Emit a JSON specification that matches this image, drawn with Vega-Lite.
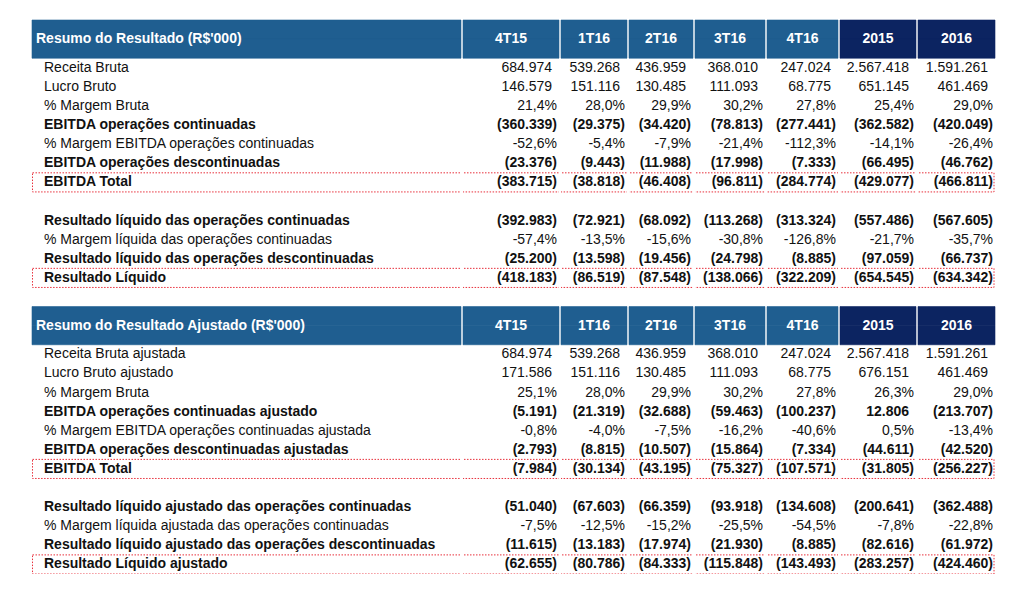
{
 "$schema": "https://vega.github.io/schema/vega-lite/v6.json",
 "padding": {"left": 31, "top": 19, "right": 0, "bottom": 0},
 "background": "#ffffff",
 "spacing": 2,
 "bounds": "flush",
 "config": {"view": {"stroke": null}, "text": {"font": "Liberation Sans", "fontSize": 14, "color": "#111111"}},
 "datasets": {
  "faixas": [{"linha": "HA1"}, {"linha": "HA2"}, {"linha": "HB1"}, {"linha": "HB2"}],
  "celulas": [
   {"linha":"HA1","tipo":"cabecalho","coluna":"Item","valor":"Resumo do Resultado (R$'000)"},
   {"linha":"HA1","tipo":"cabecalho","coluna":"4T15","valor":"4T15"},
   {"linha":"HA1","tipo":"cabecalho","coluna":"1T16","valor":"1T16"},
   {"linha":"HA1","tipo":"cabecalho","coluna":"2T16","valor":"2T16"},
   {"linha":"HA1","tipo":"cabecalho","coluna":"3T16","valor":"3T16"},
   {"linha":"HA1","tipo":"cabecalho","coluna":"4T16","valor":"4T16"},
   {"linha":"HA1","tipo":"cabecalho","coluna":"2015","valor":"2015"},
   {"linha":"HA1","tipo":"cabecalho","coluna":"2016","valor":"2016"},
   {"linha":"A1","tipo":"detalhe","coluna":"Item","valor":"Receita Bruta"},
   {"linha":"A1","tipo":"detalhe","coluna":"4T15","valor":"684.974"},
   {"linha":"A1","tipo":"detalhe","coluna":"1T16","valor":"539.268"},
   {"linha":"A1","tipo":"detalhe","coluna":"2T16","valor":"436.959"},
   {"linha":"A1","tipo":"detalhe","coluna":"3T16","valor":"368.010"},
   {"linha":"A1","tipo":"detalhe","coluna":"4T16","valor":"247.024"},
   {"linha":"A1","tipo":"detalhe","coluna":"2015","valor":"2.567.418"},
   {"linha":"A1","tipo":"detalhe","coluna":"2016","valor":"1.591.261"},
   {"linha":"A2","tipo":"detalhe","coluna":"Item","valor":"Lucro Bruto"},
   {"linha":"A2","tipo":"detalhe","coluna":"4T15","valor":"146.579"},
   {"linha":"A2","tipo":"detalhe","coluna":"1T16","valor":"151.116"},
   {"linha":"A2","tipo":"detalhe","coluna":"2T16","valor":"130.485"},
   {"linha":"A2","tipo":"detalhe","coluna":"3T16","valor":"111.093"},
   {"linha":"A2","tipo":"detalhe","coluna":"4T16","valor":"68.775"},
   {"linha":"A2","tipo":"detalhe","coluna":"2015","valor":"651.145"},
   {"linha":"A2","tipo":"detalhe","coluna":"2016","valor":"461.469"},
   {"linha":"A3","tipo":"detalhe","coluna":"Item","valor":"% Margem Bruta"},
   {"linha":"A3","tipo":"detalhe","coluna":"4T15","valor":"21,4%"},
   {"linha":"A3","tipo":"detalhe","coluna":"1T16","valor":"28,0%"},
   {"linha":"A3","tipo":"detalhe","coluna":"2T16","valor":"29,9%"},
   {"linha":"A3","tipo":"detalhe","coluna":"3T16","valor":"30,2%"},
   {"linha":"A3","tipo":"detalhe","coluna":"4T16","valor":"27,8%"},
   {"linha":"A3","tipo":"detalhe","coluna":"2015","valor":"25,4%"},
   {"linha":"A3","tipo":"detalhe","coluna":"2016","valor":"29,0%"},
   {"linha":"A4","tipo":"principal","coluna":"Item","valor":"EBITDA operações continuadas"},
   {"linha":"A4","tipo":"principal","coluna":"4T15","valor":"(360.339)"},
   {"linha":"A4","tipo":"principal","coluna":"1T16","valor":"(29.375)"},
   {"linha":"A4","tipo":"principal","coluna":"2T16","valor":"(34.420)"},
   {"linha":"A4","tipo":"principal","coluna":"3T16","valor":"(78.813)"},
   {"linha":"A4","tipo":"principal","coluna":"4T16","valor":"(277.441)"},
   {"linha":"A4","tipo":"principal","coluna":"2015","valor":"(362.582)"},
   {"linha":"A4","tipo":"principal","coluna":"2016","valor":"(420.049)"},
   {"linha":"A5","tipo":"detalhe","coluna":"Item","valor":"% Margem EBITDA operações continuadas"},
   {"linha":"A5","tipo":"detalhe","coluna":"4T15","valor":"-52,6%"},
   {"linha":"A5","tipo":"detalhe","coluna":"1T16","valor":"-5,4%"},
   {"linha":"A5","tipo":"detalhe","coluna":"2T16","valor":"-7,9%"},
   {"linha":"A5","tipo":"detalhe","coluna":"3T16","valor":"-21,4%"},
   {"linha":"A5","tipo":"detalhe","coluna":"4T16","valor":"-112,3%"},
   {"linha":"A5","tipo":"detalhe","coluna":"2015","valor":"-14,1%"},
   {"linha":"A5","tipo":"detalhe","coluna":"2016","valor":"-26,4%"},
   {"linha":"A6","tipo":"principal","coluna":"Item","valor":"EBITDA operações descontinuadas"},
   {"linha":"A6","tipo":"principal","coluna":"4T15","valor":"(23.376)"},
   {"linha":"A6","tipo":"principal","coluna":"1T16","valor":"(9.443)"},
   {"linha":"A6","tipo":"principal","coluna":"2T16","valor":"(11.988)"},
   {"linha":"A6","tipo":"principal","coluna":"3T16","valor":"(17.998)"},
   {"linha":"A6","tipo":"principal","coluna":"4T16","valor":"(7.333)"},
   {"linha":"A6","tipo":"principal","coluna":"2015","valor":"(66.495)"},
   {"linha":"A6","tipo":"principal","coluna":"2016","valor":"(46.762)"},
   {"linha":"A7","tipo":"total","coluna":"Item","valor":"EBITDA Total"},
   {"linha":"A7","tipo":"total","coluna":"4T15","valor":"(383.715)"},
   {"linha":"A7","tipo":"total","coluna":"1T16","valor":"(38.818)"},
   {"linha":"A7","tipo":"total","coluna":"2T16","valor":"(46.408)"},
   {"linha":"A7","tipo":"total","coluna":"3T16","valor":"(96.811)"},
   {"linha":"A7","tipo":"total","coluna":"4T16","valor":"(284.774)"},
   {"linha":"A7","tipo":"total","coluna":"2015","valor":"(429.077)"},
   {"linha":"A7","tipo":"total","coluna":"2016","valor":"(466.811)"},
   {"linha":"A9","tipo":"principal","coluna":"Item","valor":"Resultado líquido das operações continuadas"},
   {"linha":"A9","tipo":"principal","coluna":"4T15","valor":"(392.983)"},
   {"linha":"A9","tipo":"principal","coluna":"1T16","valor":"(72.921)"},
   {"linha":"A9","tipo":"principal","coluna":"2T16","valor":"(68.092)"},
   {"linha":"A9","tipo":"principal","coluna":"3T16","valor":"(113.268)"},
   {"linha":"A9","tipo":"principal","coluna":"4T16","valor":"(313.324)"},
   {"linha":"A9","tipo":"principal","coluna":"2015","valor":"(557.486)"},
   {"linha":"A9","tipo":"principal","coluna":"2016","valor":"(567.605)"},
   {"linha":"A10","tipo":"detalhe","coluna":"Item","valor":"% Margem líquida das operações continuadas"},
   {"linha":"A10","tipo":"detalhe","coluna":"4T15","valor":"-57,4%"},
   {"linha":"A10","tipo":"detalhe","coluna":"1T16","valor":"-13,5%"},
   {"linha":"A10","tipo":"detalhe","coluna":"2T16","valor":"-15,6%"},
   {"linha":"A10","tipo":"detalhe","coluna":"3T16","valor":"-30,8%"},
   {"linha":"A10","tipo":"detalhe","coluna":"4T16","valor":"-126,8%"},
   {"linha":"A10","tipo":"detalhe","coluna":"2015","valor":"-21,7%"},
   {"linha":"A10","tipo":"detalhe","coluna":"2016","valor":"-35,7%"},
   {"linha":"A11","tipo":"principal","coluna":"Item","valor":"Resultado líquido das operações descontinuadas"},
   {"linha":"A11","tipo":"principal","coluna":"4T15","valor":"(25.200)"},
   {"linha":"A11","tipo":"principal","coluna":"1T16","valor":"(13.598)"},
   {"linha":"A11","tipo":"principal","coluna":"2T16","valor":"(19.456)"},
   {"linha":"A11","tipo":"principal","coluna":"3T16","valor":"(24.798)"},
   {"linha":"A11","tipo":"principal","coluna":"4T16","valor":"(8.885)"},
   {"linha":"A11","tipo":"principal","coluna":"2015","valor":"(97.059)"},
   {"linha":"A11","tipo":"principal","coluna":"2016","valor":"(66.737)"},
   {"linha":"A12","tipo":"total","coluna":"Item","valor":"Resultado Líquido"},
   {"linha":"A12","tipo":"total","coluna":"4T15","valor":"(418.183)"},
   {"linha":"A12","tipo":"total","coluna":"1T16","valor":"(86.519)"},
   {"linha":"A12","tipo":"total","coluna":"2T16","valor":"(87.548)"},
   {"linha":"A12","tipo":"total","coluna":"3T16","valor":"(138.066)"},
   {"linha":"A12","tipo":"total","coluna":"4T16","valor":"(322.209)"},
   {"linha":"A12","tipo":"total","coluna":"2015","valor":"(654.545)"},
   {"linha":"A12","tipo":"total","coluna":"2016","valor":"(634.342)"},
   {"linha":"HB1","tipo":"cabecalho","coluna":"Item","valor":"Resumo do Resultado Ajustado (R$'000)"},
   {"linha":"HB1","tipo":"cabecalho","coluna":"4T15","valor":"4T15"},
   {"linha":"HB1","tipo":"cabecalho","coluna":"1T16","valor":"1T16"},
   {"linha":"HB1","tipo":"cabecalho","coluna":"2T16","valor":"2T16"},
   {"linha":"HB1","tipo":"cabecalho","coluna":"3T16","valor":"3T16"},
   {"linha":"HB1","tipo":"cabecalho","coluna":"4T16","valor":"4T16"},
   {"linha":"HB1","tipo":"cabecalho","coluna":"2015","valor":"2015"},
   {"linha":"HB1","tipo":"cabecalho","coluna":"2016","valor":"2016"},
   {"linha":"B1","tipo":"detalhe","coluna":"Item","valor":"Receita Bruta ajustada"},
   {"linha":"B1","tipo":"detalhe","coluna":"4T15","valor":"684.974"},
   {"linha":"B1","tipo":"detalhe","coluna":"1T16","valor":"539.268"},
   {"linha":"B1","tipo":"detalhe","coluna":"2T16","valor":"436.959"},
   {"linha":"B1","tipo":"detalhe","coluna":"3T16","valor":"368.010"},
   {"linha":"B1","tipo":"detalhe","coluna":"4T16","valor":"247.024"},
   {"linha":"B1","tipo":"detalhe","coluna":"2015","valor":"2.567.418"},
   {"linha":"B1","tipo":"detalhe","coluna":"2016","valor":"1.591.261"},
   {"linha":"B2","tipo":"detalhe","coluna":"Item","valor":"Lucro Bruto ajustado"},
   {"linha":"B2","tipo":"detalhe","coluna":"4T15","valor":"171.586"},
   {"linha":"B2","tipo":"detalhe","coluna":"1T16","valor":"151.116"},
   {"linha":"B2","tipo":"detalhe","coluna":"2T16","valor":"130.485"},
   {"linha":"B2","tipo":"detalhe","coluna":"3T16","valor":"111.093"},
   {"linha":"B2","tipo":"detalhe","coluna":"4T16","valor":"68.775"},
   {"linha":"B2","tipo":"detalhe","coluna":"2015","valor":"676.151"},
   {"linha":"B2","tipo":"detalhe","coluna":"2016","valor":"461.469"},
   {"linha":"B3","tipo":"detalhe","coluna":"Item","valor":"% Margem Bruta"},
   {"linha":"B3","tipo":"detalhe","coluna":"4T15","valor":"25,1%"},
   {"linha":"B3","tipo":"detalhe","coluna":"1T16","valor":"28,0%"},
   {"linha":"B3","tipo":"detalhe","coluna":"2T16","valor":"29,9%"},
   {"linha":"B3","tipo":"detalhe","coluna":"3T16","valor":"30,2%"},
   {"linha":"B3","tipo":"detalhe","coluna":"4T16","valor":"27,8%"},
   {"linha":"B3","tipo":"detalhe","coluna":"2015","valor":"26,3%"},
   {"linha":"B3","tipo":"detalhe","coluna":"2016","valor":"29,0%"},
   {"linha":"B4","tipo":"principal","coluna":"Item","valor":"EBITDA operações continuadas ajustado"},
   {"linha":"B4","tipo":"principal","coluna":"4T15","valor":"(5.191)"},
   {"linha":"B4","tipo":"principal","coluna":"1T16","valor":"(21.319)"},
   {"linha":"B4","tipo":"principal","coluna":"2T16","valor":"(32.688)"},
   {"linha":"B4","tipo":"principal","coluna":"3T16","valor":"(59.463)"},
   {"linha":"B4","tipo":"principal","coluna":"4T16","valor":"(100.237)"},
   {"linha":"B4","tipo":"principal","coluna":"2015","valor":"12.806"},
   {"linha":"B4","tipo":"principal","coluna":"2016","valor":"(213.707)"},
   {"linha":"B5","tipo":"detalhe","coluna":"Item","valor":"% Margem EBITDA operações continuadas ajustada"},
   {"linha":"B5","tipo":"detalhe","coluna":"4T15","valor":"-0,8%"},
   {"linha":"B5","tipo":"detalhe","coluna":"1T16","valor":"-4,0%"},
   {"linha":"B5","tipo":"detalhe","coluna":"2T16","valor":"-7,5%"},
   {"linha":"B5","tipo":"detalhe","coluna":"3T16","valor":"-16,2%"},
   {"linha":"B5","tipo":"detalhe","coluna":"4T16","valor":"-40,6%"},
   {"linha":"B5","tipo":"detalhe","coluna":"2015","valor":"0,5%"},
   {"linha":"B5","tipo":"detalhe","coluna":"2016","valor":"-13,4%"},
   {"linha":"B6","tipo":"principal","coluna":"Item","valor":"EBITDA operações descontinuadas ajustadas"},
   {"linha":"B6","tipo":"principal","coluna":"4T15","valor":"(2.793)"},
   {"linha":"B6","tipo":"principal","coluna":"1T16","valor":"(8.815)"},
   {"linha":"B6","tipo":"principal","coluna":"2T16","valor":"(10.507)"},
   {"linha":"B6","tipo":"principal","coluna":"3T16","valor":"(15.864)"},
   {"linha":"B6","tipo":"principal","coluna":"4T16","valor":"(7.334)"},
   {"linha":"B6","tipo":"principal","coluna":"2015","valor":"(44.611)"},
   {"linha":"B6","tipo":"principal","coluna":"2016","valor":"(42.520)"},
   {"linha":"B7","tipo":"total","coluna":"Item","valor":"EBITDA Total"},
   {"linha":"B7","tipo":"total","coluna":"4T15","valor":"(7.984)"},
   {"linha":"B7","tipo":"total","coluna":"1T16","valor":"(30.134)"},
   {"linha":"B7","tipo":"total","coluna":"2T16","valor":"(43.195)"},
   {"linha":"B7","tipo":"total","coluna":"3T16","valor":"(75.327)"},
   {"linha":"B7","tipo":"total","coluna":"4T16","valor":"(107.571)"},
   {"linha":"B7","tipo":"total","coluna":"2015","valor":"(31.805)"},
   {"linha":"B7","tipo":"total","coluna":"2016","valor":"(256.227)"},
   {"linha":"B9","tipo":"principal","coluna":"Item","valor":"Resultado líquido ajustado das operações continuadas"},
   {"linha":"B9","tipo":"principal","coluna":"4T15","valor":"(51.040)"},
   {"linha":"B9","tipo":"principal","coluna":"1T16","valor":"(67.603)"},
   {"linha":"B9","tipo":"principal","coluna":"2T16","valor":"(66.359)"},
   {"linha":"B9","tipo":"principal","coluna":"3T16","valor":"(93.918)"},
   {"linha":"B9","tipo":"principal","coluna":"4T16","valor":"(134.608)"},
   {"linha":"B9","tipo":"principal","coluna":"2015","valor":"(200.641)"},
   {"linha":"B9","tipo":"principal","coluna":"2016","valor":"(362.488)"},
   {"linha":"B10","tipo":"detalhe","coluna":"Item","valor":"% Margem líquida ajustada das operações continuadas"},
   {"linha":"B10","tipo":"detalhe","coluna":"4T15","valor":"-7,5%"},
   {"linha":"B10","tipo":"detalhe","coluna":"1T16","valor":"-12,5%"},
   {"linha":"B10","tipo":"detalhe","coluna":"2T16","valor":"-15,2%"},
   {"linha":"B10","tipo":"detalhe","coluna":"3T16","valor":"-25,5%"},
   {"linha":"B10","tipo":"detalhe","coluna":"4T16","valor":"-54,5%"},
   {"linha":"B10","tipo":"detalhe","coluna":"2015","valor":"-7,8%"},
   {"linha":"B10","tipo":"detalhe","coluna":"2016","valor":"-22,8%"},
   {"linha":"B11","tipo":"principal","coluna":"Item","valor":"Resultado líquido ajustado das operações descontinuadas"},
   {"linha":"B11","tipo":"principal","coluna":"4T15","valor":"(11.615)"},
   {"linha":"B11","tipo":"principal","coluna":"1T16","valor":"(13.183)"},
   {"linha":"B11","tipo":"principal","coluna":"2T16","valor":"(17.974)"},
   {"linha":"B11","tipo":"principal","coluna":"3T16","valor":"(21.930)"},
   {"linha":"B11","tipo":"principal","coluna":"4T16","valor":"(8.885)"},
   {"linha":"B11","tipo":"principal","coluna":"2015","valor":"(82.616)"},
   {"linha":"B11","tipo":"principal","coluna":"2016","valor":"(61.972)"},
   {"linha":"B12","tipo":"total","coluna":"Item","valor":"Resultado Líquido ajustado"},
   {"linha":"B12","tipo":"total","coluna":"4T15","valor":"(62.655)"},
   {"linha":"B12","tipo":"total","coluna":"1T16","valor":"(80.786)"},
   {"linha":"B12","tipo":"total","coluna":"2T16","valor":"(84.333)"},
   {"linha":"B12","tipo":"total","coluna":"3T16","valor":"(115.848)"},
   {"linha":"B12","tipo":"total","coluna":"4T16","valor":"(143.493)"},
   {"linha":"B12","tipo":"total","coluna":"2015","valor":"(283.257)"},
   {"linha":"B12","tipo":"total","coluna":"2016","valor":"(424.460)"}
  ]
 },
 "hconcat": [
  {
   "width": 429, "height": 554,
   "encoding": {"y": {"field": "linha", "type": "nominal", "axis": null, "scale": {"domain": ["HA1","HA2","A1","A2","A3","A4","A5","A6","A7","A8","A9","A10","A11","A12","G","HB1","HB2","B1","B2","B3","B4","B5","B6","B7","B8","B9","B10","B11","B12"], "paddingInner": 0, "paddingOuter": 0}}},
   "layer": [
    {"data": {"name": "faixas"}, "mark": {"type": "rect", "fill": "#1f5e90", "stroke": "#1f5e90", "strokeWidth": 0.6}, "encoding": {"x": {"value": 0}, "x2": {"value": "width"}}},
    {"data": {"name": "celulas"}, "transform": [{"filter": "datum.coluna == 'Item' && datum.tipo == 'cabecalho'"}], "mark": {"type": "text", "align": "left", "dx": 4, "dy": 9.5, "fontWeight": "bold", "color": "#ffffff"}, "encoding": {"x": {"value": 0}, "text": {"field": "valor"}}},
    {"data": {"name": "celulas"}, "transform": [{"filter": "datum.coluna == 'Item' && datum.tipo == 'detalhe'"}], "mark": {"type": "text", "align": "left", "dx": 12}, "encoding": {"x": {"value": 0}, "text": {"field": "valor"}}},
    {"data": {"name": "celulas"}, "transform": [{"filter": "datum.coluna == 'Item' && (datum.tipo == 'principal' || datum.tipo == 'total')"}], "mark": {"type": "text", "align": "left", "dx": 12, "fontWeight": "bold"}, "encoding": {"x": {"value": 0}, "text": {"field": "valor"}}},
    {"data": {"name": "celulas"}, "transform": [{"filter": "datum.coluna == 'Item' && datum.tipo == 'total'"}], "mark": {"type": "rect", "fillOpacity": 0, "stroke": "#e8303c", "strokeWidth": 1, "strokeDash": [1.5, 1.5], "xOffset": 0.5, "x2Offset": 5, "clip": true}, "encoding": {"x": {"value": 0}, "x2": {"value": "width"}}}
   ]
  },
  {
   "width": 96, "height": 554,
   "encoding": {"y": {"field": "linha", "type": "nominal", "axis": null, "scale": {"domain": ["HA1","HA2","A1","A2","A3","A4","A5","A6","A7","A8","A9","A10","A11","A12","G","HB1","HB2","B1","B2","B3","B4","B5","B6","B7","B8","B9","B10","B11","B12"], "paddingInner": 0, "paddingOuter": 0}}},
   "layer": [
    {"data": {"name": "faixas"}, "mark": {"type": "rect", "fill": "#1f5e90", "stroke": "#1f5e90", "strokeWidth": 0.6}, "encoding": {"x": {"value": 0}, "x2": {"value": "width"}}},
    {"data": {"name": "celulas"}, "transform": [{"filter": "datum.coluna == '4T15' && datum.tipo == 'cabecalho'"}], "mark": {"type": "text", "dy": 9.5, "fontWeight": "bold", "color": "#ffffff"}, "encoding": {"text": {"field": "valor"}}},
    {"data": {"name": "celulas"}, "transform": [{"filter": "datum.coluna == '4T15' && datum.tipo == 'detalhe' && test(/[)%]$/, datum.valor)"}], "mark": {"type": "text", "align": "right", "dx": -2}, "encoding": {"x": {"value": "width"}, "text": {"field": "valor"}}},
    {"data": {"name": "celulas"}, "transform": [{"filter": "datum.coluna == '4T15' && datum.tipo == 'detalhe' && !test(/[)%]$/, datum.valor)"}], "mark": {"type": "text", "align": "right", "dx": -7}, "encoding": {"x": {"value": "width"}, "text": {"field": "valor"}}},
    {"data": {"name": "celulas"}, "transform": [{"filter": "datum.coluna == '4T15' && (datum.tipo == 'principal' || datum.tipo == 'total') && test(/[)%]$/, datum.valor)"}], "mark": {"type": "text", "align": "right", "dx": -2, "fontWeight": "bold"}, "encoding": {"x": {"value": "width"}, "text": {"field": "valor"}}},
    {"data": {"name": "celulas"}, "transform": [{"filter": "datum.coluna == '4T15' && (datum.tipo == 'principal' || datum.tipo == 'total') && !test(/[)%]$/, datum.valor)"}], "mark": {"type": "text", "align": "right", "dx": -7, "fontWeight": "bold"}, "encoding": {"x": {"value": "width"}, "text": {"field": "valor"}}},
    {"data": {"name": "celulas"}, "transform": [{"filter": "datum.coluna == '4T15' && datum.tipo == 'total'"}], "mark": {"type": "rect", "fillOpacity": 0, "stroke": "#e8303c", "strokeWidth": 1, "strokeDash": [1.5, 1.5], "xOffset": -5, "x2Offset": 5, "clip": true}, "encoding": {"x": {"value": 0}, "x2": {"value": "width"}}}
   ]
  },
  {
   "width": 66, "height": 554,
   "encoding": {"y": {"field": "linha", "type": "nominal", "axis": null, "scale": {"domain": ["HA1","HA2","A1","A2","A3","A4","A5","A6","A7","A8","A9","A10","A11","A12","G","HB1","HB2","B1","B2","B3","B4","B5","B6","B7","B8","B9","B10","B11","B12"], "paddingInner": 0, "paddingOuter": 0}}},
   "layer": [
    {"data": {"name": "faixas"}, "mark": {"type": "rect", "fill": "#1f5e90", "stroke": "#1f5e90", "strokeWidth": 0.6}, "encoding": {"x": {"value": 0}, "x2": {"value": "width"}}},
    {"data": {"name": "celulas"}, "transform": [{"filter": "datum.coluna == '1T16' && datum.tipo == 'cabecalho'"}], "mark": {"type": "text", "dy": 9.5, "fontWeight": "bold", "color": "#ffffff"}, "encoding": {"text": {"field": "valor"}}},
    {"data": {"name": "celulas"}, "transform": [{"filter": "datum.coluna == '1T16' && datum.tipo == 'detalhe' && test(/[)%]$/, datum.valor)"}], "mark": {"type": "text", "align": "right", "dx": -2}, "encoding": {"x": {"value": "width"}, "text": {"field": "valor"}}},
    {"data": {"name": "celulas"}, "transform": [{"filter": "datum.coluna == '1T16' && datum.tipo == 'detalhe' && !test(/[)%]$/, datum.valor)"}], "mark": {"type": "text", "align": "right", "dx": -7}, "encoding": {"x": {"value": "width"}, "text": {"field": "valor"}}},
    {"data": {"name": "celulas"}, "transform": [{"filter": "datum.coluna == '1T16' && (datum.tipo == 'principal' || datum.tipo == 'total') && test(/[)%]$/, datum.valor)"}], "mark": {"type": "text", "align": "right", "dx": -2, "fontWeight": "bold"}, "encoding": {"x": {"value": "width"}, "text": {"field": "valor"}}},
    {"data": {"name": "celulas"}, "transform": [{"filter": "datum.coluna == '1T16' && (datum.tipo == 'principal' || datum.tipo == 'total') && !test(/[)%]$/, datum.valor)"}], "mark": {"type": "text", "align": "right", "dx": -7, "fontWeight": "bold"}, "encoding": {"x": {"value": "width"}, "text": {"field": "valor"}}},
    {"data": {"name": "celulas"}, "transform": [{"filter": "datum.coluna == '1T16' && datum.tipo == 'total'"}], "mark": {"type": "rect", "fillOpacity": 0, "stroke": "#e8303c", "strokeWidth": 1, "strokeDash": [1.5, 1.5], "xOffset": -5, "x2Offset": 5, "clip": true}, "encoding": {"x": {"value": 0}, "x2": {"value": "width"}}}
   ]
  },
  {
   "width": 64, "height": 554,
   "encoding": {"y": {"field": "linha", "type": "nominal", "axis": null, "scale": {"domain": ["HA1","HA2","A1","A2","A3","A4","A5","A6","A7","A8","A9","A10","A11","A12","G","HB1","HB2","B1","B2","B3","B4","B5","B6","B7","B8","B9","B10","B11","B12"], "paddingInner": 0, "paddingOuter": 0}}},
   "layer": [
    {"data": {"name": "faixas"}, "mark": {"type": "rect", "fill": "#1f5e90", "stroke": "#1f5e90", "strokeWidth": 0.6}, "encoding": {"x": {"value": 0}, "x2": {"value": "width"}}},
    {"data": {"name": "celulas"}, "transform": [{"filter": "datum.coluna == '2T16' && datum.tipo == 'cabecalho'"}], "mark": {"type": "text", "dy": 9.5, "fontWeight": "bold", "color": "#ffffff"}, "encoding": {"text": {"field": "valor"}}},
    {"data": {"name": "celulas"}, "transform": [{"filter": "datum.coluna == '2T16' && datum.tipo == 'detalhe' && test(/[)%]$/, datum.valor)"}], "mark": {"type": "text", "align": "right", "dx": -2}, "encoding": {"x": {"value": "width"}, "text": {"field": "valor"}}},
    {"data": {"name": "celulas"}, "transform": [{"filter": "datum.coluna == '2T16' && datum.tipo == 'detalhe' && !test(/[)%]$/, datum.valor)"}], "mark": {"type": "text", "align": "right", "dx": -7}, "encoding": {"x": {"value": "width"}, "text": {"field": "valor"}}},
    {"data": {"name": "celulas"}, "transform": [{"filter": "datum.coluna == '2T16' && (datum.tipo == 'principal' || datum.tipo == 'total') && test(/[)%]$/, datum.valor)"}], "mark": {"type": "text", "align": "right", "dx": -2, "fontWeight": "bold"}, "encoding": {"x": {"value": "width"}, "text": {"field": "valor"}}},
    {"data": {"name": "celulas"}, "transform": [{"filter": "datum.coluna == '2T16' && (datum.tipo == 'principal' || datum.tipo == 'total') && !test(/[)%]$/, datum.valor)"}], "mark": {"type": "text", "align": "right", "dx": -7, "fontWeight": "bold"}, "encoding": {"x": {"value": "width"}, "text": {"field": "valor"}}},
    {"data": {"name": "celulas"}, "transform": [{"filter": "datum.coluna == '2T16' && datum.tipo == 'total'"}], "mark": {"type": "rect", "fillOpacity": 0, "stroke": "#e8303c", "strokeWidth": 1, "strokeDash": [1.5, 1.5], "xOffset": -5, "x2Offset": 5, "clip": true}, "encoding": {"x": {"value": 0}, "x2": {"value": "width"}}}
   ]
  },
  {
   "width": 70, "height": 554,
   "encoding": {"y": {"field": "linha", "type": "nominal", "axis": null, "scale": {"domain": ["HA1","HA2","A1","A2","A3","A4","A5","A6","A7","A8","A9","A10","A11","A12","G","HB1","HB2","B1","B2","B3","B4","B5","B6","B7","B8","B9","B10","B11","B12"], "paddingInner": 0, "paddingOuter": 0}}},
   "layer": [
    {"data": {"name": "faixas"}, "mark": {"type": "rect", "fill": "#1f5e90", "stroke": "#1f5e90", "strokeWidth": 0.6}, "encoding": {"x": {"value": 0}, "x2": {"value": "width"}}},
    {"data": {"name": "celulas"}, "transform": [{"filter": "datum.coluna == '3T16' && datum.tipo == 'cabecalho'"}], "mark": {"type": "text", "dy": 9.5, "fontWeight": "bold", "color": "#ffffff"}, "encoding": {"text": {"field": "valor"}}},
    {"data": {"name": "celulas"}, "transform": [{"filter": "datum.coluna == '3T16' && datum.tipo == 'detalhe' && test(/[)%]$/, datum.valor)"}], "mark": {"type": "text", "align": "right", "dx": -2}, "encoding": {"x": {"value": "width"}, "text": {"field": "valor"}}},
    {"data": {"name": "celulas"}, "transform": [{"filter": "datum.coluna == '3T16' && datum.tipo == 'detalhe' && !test(/[)%]$/, datum.valor)"}], "mark": {"type": "text", "align": "right", "dx": -7}, "encoding": {"x": {"value": "width"}, "text": {"field": "valor"}}},
    {"data": {"name": "celulas"}, "transform": [{"filter": "datum.coluna == '3T16' && (datum.tipo == 'principal' || datum.tipo == 'total') && test(/[)%]$/, datum.valor)"}], "mark": {"type": "text", "align": "right", "dx": -2, "fontWeight": "bold"}, "encoding": {"x": {"value": "width"}, "text": {"field": "valor"}}},
    {"data": {"name": "celulas"}, "transform": [{"filter": "datum.coluna == '3T16' && (datum.tipo == 'principal' || datum.tipo == 'total') && !test(/[)%]$/, datum.valor)"}], "mark": {"type": "text", "align": "right", "dx": -7, "fontWeight": "bold"}, "encoding": {"x": {"value": "width"}, "text": {"field": "valor"}}},
    {"data": {"name": "celulas"}, "transform": [{"filter": "datum.coluna == '3T16' && datum.tipo == 'total'"}], "mark": {"type": "rect", "fillOpacity": 0, "stroke": "#e8303c", "strokeWidth": 1, "strokeDash": [1.5, 1.5], "xOffset": -5, "x2Offset": 5, "clip": true}, "encoding": {"x": {"value": 0}, "x2": {"value": "width"}}}
   ]
  },
  {
   "width": 71, "height": 554,
   "encoding": {"y": {"field": "linha", "type": "nominal", "axis": null, "scale": {"domain": ["HA1","HA2","A1","A2","A3","A4","A5","A6","A7","A8","A9","A10","A11","A12","G","HB1","HB2","B1","B2","B3","B4","B5","B6","B7","B8","B9","B10","B11","B12"], "paddingInner": 0, "paddingOuter": 0}}},
   "layer": [
    {"data": {"name": "faixas"}, "mark": {"type": "rect", "fill": "#1f5e90", "stroke": "#1f5e90", "strokeWidth": 0.6}, "encoding": {"x": {"value": 0}, "x2": {"value": "width"}}},
    {"data": {"name": "celulas"}, "transform": [{"filter": "datum.coluna == '4T16' && datum.tipo == 'cabecalho'"}], "mark": {"type": "text", "dy": 9.5, "fontWeight": "bold", "color": "#ffffff"}, "encoding": {"text": {"field": "valor"}}},
    {"data": {"name": "celulas"}, "transform": [{"filter": "datum.coluna == '4T16' && datum.tipo == 'detalhe' && test(/[)%]$/, datum.valor)"}], "mark": {"type": "text", "align": "right", "dx": -2}, "encoding": {"x": {"value": "width"}, "text": {"field": "valor"}}},
    {"data": {"name": "celulas"}, "transform": [{"filter": "datum.coluna == '4T16' && datum.tipo == 'detalhe' && !test(/[)%]$/, datum.valor)"}], "mark": {"type": "text", "align": "right", "dx": -7}, "encoding": {"x": {"value": "width"}, "text": {"field": "valor"}}},
    {"data": {"name": "celulas"}, "transform": [{"filter": "datum.coluna == '4T16' && (datum.tipo == 'principal' || datum.tipo == 'total') && test(/[)%]$/, datum.valor)"}], "mark": {"type": "text", "align": "right", "dx": -2, "fontWeight": "bold"}, "encoding": {"x": {"value": "width"}, "text": {"field": "valor"}}},
    {"data": {"name": "celulas"}, "transform": [{"filter": "datum.coluna == '4T16' && (datum.tipo == 'principal' || datum.tipo == 'total') && !test(/[)%]$/, datum.valor)"}], "mark": {"type": "text", "align": "right", "dx": -7, "fontWeight": "bold"}, "encoding": {"x": {"value": "width"}, "text": {"field": "valor"}}},
    {"data": {"name": "celulas"}, "transform": [{"filter": "datum.coluna == '4T16' && datum.tipo == 'total'"}], "mark": {"type": "rect", "fillOpacity": 0, "stroke": "#e8303c", "strokeWidth": 1, "strokeDash": [1.5, 1.5], "xOffset": -5, "x2Offset": 5, "clip": true}, "encoding": {"x": {"value": 0}, "x2": {"value": "width"}}}
   ]
  },
  {
   "width": 76, "height": 554,
   "encoding": {"y": {"field": "linha", "type": "nominal", "axis": null, "scale": {"domain": ["HA1","HA2","A1","A2","A3","A4","A5","A6","A7","A8","A9","A10","A11","A12","G","HB1","HB2","B1","B2","B3","B4","B5","B6","B7","B8","B9","B10","B11","B12"], "paddingInner": 0, "paddingOuter": 0}}},
   "layer": [
    {"data": {"name": "faixas"}, "mark": {"type": "rect", "fill": "#0c2461", "stroke": "#0c2461", "strokeWidth": 0.6}, "encoding": {"x": {"value": 0}, "x2": {"value": "width"}}},
    {"data": {"name": "celulas"}, "transform": [{"filter": "datum.coluna == '2015' && datum.tipo == 'cabecalho'"}], "mark": {"type": "text", "dy": 9.5, "fontWeight": "bold", "color": "#ffffff"}, "encoding": {"text": {"field": "valor"}}},
    {"data": {"name": "celulas"}, "transform": [{"filter": "datum.coluna == '2015' && datum.tipo == 'detalhe' && test(/[)%]$/, datum.valor)"}], "mark": {"type": "text", "align": "right", "dx": -2}, "encoding": {"x": {"value": "width"}, "text": {"field": "valor"}}},
    {"data": {"name": "celulas"}, "transform": [{"filter": "datum.coluna == '2015' && datum.tipo == 'detalhe' && !test(/[)%]$/, datum.valor)"}], "mark": {"type": "text", "align": "right", "dx": -7}, "encoding": {"x": {"value": "width"}, "text": {"field": "valor"}}},
    {"data": {"name": "celulas"}, "transform": [{"filter": "datum.coluna == '2015' && (datum.tipo == 'principal' || datum.tipo == 'total') && test(/[)%]$/, datum.valor)"}], "mark": {"type": "text", "align": "right", "dx": -2, "fontWeight": "bold"}, "encoding": {"x": {"value": "width"}, "text": {"field": "valor"}}},
    {"data": {"name": "celulas"}, "transform": [{"filter": "datum.coluna == '2015' && (datum.tipo == 'principal' || datum.tipo == 'total') && !test(/[)%]$/, datum.valor)"}], "mark": {"type": "text", "align": "right", "dx": -7, "fontWeight": "bold"}, "encoding": {"x": {"value": "width"}, "text": {"field": "valor"}}},
    {"data": {"name": "celulas"}, "transform": [{"filter": "datum.coluna == '2015' && datum.tipo == 'total'"}], "mark": {"type": "rect", "fillOpacity": 0, "stroke": "#e8303c", "strokeWidth": 1, "strokeDash": [1.5, 1.5], "xOffset": -5, "x2Offset": 5, "clip": true}, "encoding": {"x": {"value": 0}, "x2": {"value": "width"}}}
   ]
  },
  {
   "width": 77, "height": 554,
   "encoding": {"y": {"field": "linha", "type": "nominal", "axis": null, "scale": {"domain": ["HA1","HA2","A1","A2","A3","A4","A5","A6","A7","A8","A9","A10","A11","A12","G","HB1","HB2","B1","B2","B3","B4","B5","B6","B7","B8","B9","B10","B11","B12"], "paddingInner": 0, "paddingOuter": 0}}},
   "layer": [
    {"data": {"name": "faixas"}, "mark": {"type": "rect", "fill": "#0c2461", "stroke": "#0c2461", "strokeWidth": 0.6}, "encoding": {"x": {"value": 0}, "x2": {"value": "width"}}},
    {"data": {"name": "celulas"}, "transform": [{"filter": "datum.coluna == '2016' && datum.tipo == 'cabecalho'"}], "mark": {"type": "text", "dy": 9.5, "fontWeight": "bold", "color": "#ffffff"}, "encoding": {"text": {"field": "valor"}}},
    {"data": {"name": "celulas"}, "transform": [{"filter": "datum.coluna == '2016' && datum.tipo == 'detalhe' && test(/[)%]$/, datum.valor)"}], "mark": {"type": "text", "align": "right", "dx": -2}, "encoding": {"x": {"value": "width"}, "text": {"field": "valor"}}},
    {"data": {"name": "celulas"}, "transform": [{"filter": "datum.coluna == '2016' && datum.tipo == 'detalhe' && !test(/[)%]$/, datum.valor)"}], "mark": {"type": "text", "align": "right", "dx": -7}, "encoding": {"x": {"value": "width"}, "text": {"field": "valor"}}},
    {"data": {"name": "celulas"}, "transform": [{"filter": "datum.coluna == '2016' && (datum.tipo == 'principal' || datum.tipo == 'total') && test(/[)%]$/, datum.valor)"}], "mark": {"type": "text", "align": "right", "dx": -2, "fontWeight": "bold"}, "encoding": {"x": {"value": "width"}, "text": {"field": "valor"}}},
    {"data": {"name": "celulas"}, "transform": [{"filter": "datum.coluna == '2016' && (datum.tipo == 'principal' || datum.tipo == 'total') && !test(/[)%]$/, datum.valor)"}], "mark": {"type": "text", "align": "right", "dx": -7, "fontWeight": "bold"}, "encoding": {"x": {"value": "width"}, "text": {"field": "valor"}}},
    {"data": {"name": "celulas"}, "transform": [{"filter": "datum.coluna == '2016' && datum.tipo == 'total'"}], "mark": {"type": "rect", "fillOpacity": 0, "stroke": "#e8303c", "strokeWidth": 1, "strokeDash": [1.5, 1.5], "xOffset": -5, "x2Offset": -1, "clip": true}, "encoding": {"x": {"value": 0}, "x2": {"value": "width"}}}
   ]
  }
 ]
}
